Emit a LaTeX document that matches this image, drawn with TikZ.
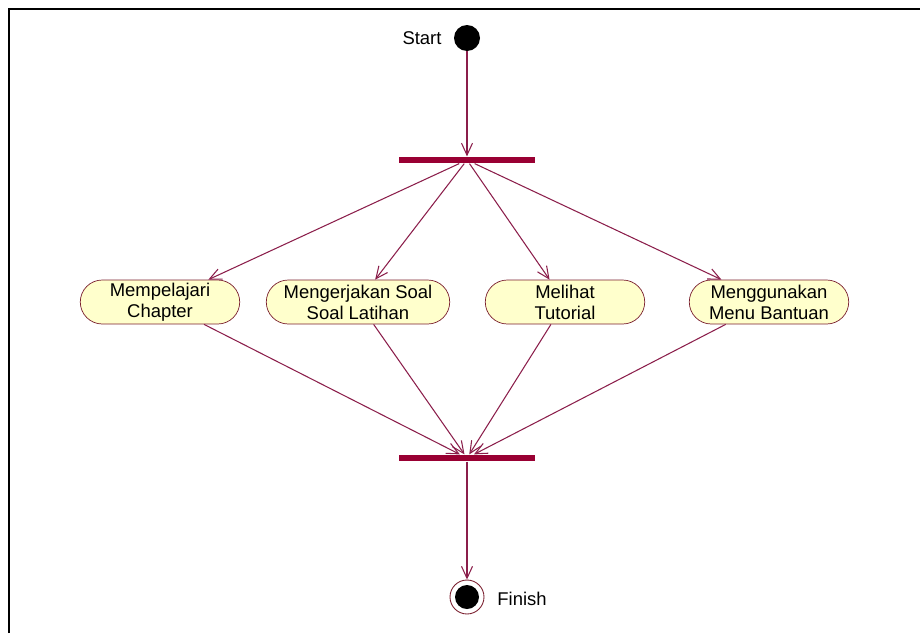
\documentclass[tikz,border=0pt]{standalone}
\usepackage{fontspec}
\setmainfont{Liberation Sans}
\usetikzlibrary{arrows.meta, positioning, shapes.misc}
\definecolor{barred}{HTML}{990033}
\definecolor{flowline}{HTML}{8B1E4B}
\definecolor{actfill}{HTML}{FFFFCC}
\definecolor{actedge}{HTML}{7A1F2E}

\begin{document}
\begin{tikzpicture}[x=0.02cm,y=-0.02cm,>={Straight Barb[length=2.4mm,width=2.2mm]},
  activity/.style={rounded rectangle, draw=actedge, fill=actfill, minimum width=3.26cm, minimum height=0.88cm, align=center, inner sep=1pt, font=\fontsize{10.5}{12}\selectfont},
  syncbar/.style={rectangle, fill=barred, minimum width=2.74cm, minimum height=1.3mm, inner sep=0pt},
  flow/.style={->, draw=flowline, line width=0.6pt},
  lbl/.style={font=\fontsize{10.5}{12}\selectfont}]
\useasboundingbox (0,0) rectangle (920,633);
\draw[line width=1pt] (9,633) -- (9,9) -- (920,9);

\node[circle, fill=black, minimum size=5.2mm, inner sep=0pt] at (467,38) (start) {};
\node[lbl] at (422,38) (startlbl) {Start};
\node[syncbar] at (467,160) (fork) {};
\node[activity] at (160,302) (belajar) {Mempelajari\\Chapter};
\node[activity, minimum width=3.74cm] at (358,302) (latihan) {Mengerjakan Soal\\Soal Latihan};
\node[activity] at (565,302) (tutorial) {Melihat\\Tutorial};
\node[activity] at (769,302) (bantuan) {Menggunakan\\Menu Bantuan};
\node[syncbar] at (467,458) (join) {};
\node[circle, draw=actedge, line width=0.5pt, minimum size=6.8mm, inner sep=0pt] at (467,597) (finish) {};
\node[circle, fill=black, minimum size=4.8mm, inner sep=0pt] at (467,597) (finishdot) {};
\node[lbl] at (522,599) (finishlbl) {Finish};

\draw[flow] (start) to (fork);
\draw[flow] (fork) to (belajar);
\draw[flow] (fork) to (latihan);
\draw[flow] (fork) to (tutorial);
\draw[flow] (fork) to (bantuan);
\draw[flow] (belajar) to (join);
\draw[flow] (latihan) to (join);
\draw[flow] (tutorial) to (join);
\draw[flow] (bantuan) to (join);
\draw[flow] (join) to (finish);
\end{tikzpicture}
\end{document}
